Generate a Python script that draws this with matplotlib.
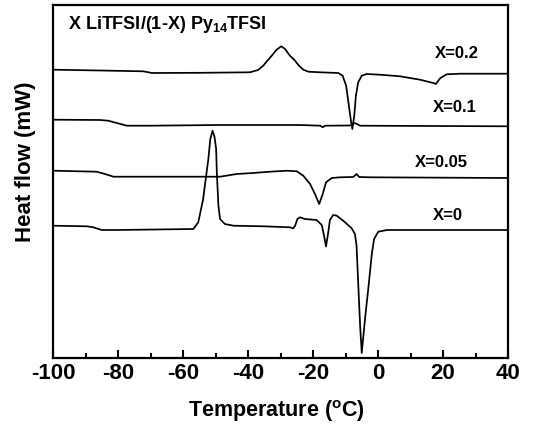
import matplotlib
matplotlib.use("Agg")
import matplotlib.pyplot as plt
from matplotlib import font_manager as fm
from matplotlib.ticker import MultipleLocator

names = {f.name for f in fm.fontManager.ttflist}
narrow = "Liberation Sans Narrow" if "Liberation Sans Narrow" in names else "Liberation Sans"

plt.rcParams['font.family'] = [narrow, 'DejaVu Sans']
plt.rcParams['mathtext.fontset'] = 'custom'
plt.rcParams['mathtext.default'] = 'bf'
plt.rcParams['mathtext.bf'] = narrow + ':bold'
plt.rcParams['mathtext.rm'] = narrow + ':bold'

# ---- data: temperature (degC) and heat flow (arbitrary, offset) ----
t_x02 = [-100, -85.5, -72.3, -71.1, -69.5, -54.8, -39.4, -36.9, -35.3, -34.0, -32.7, -31.2,
         -29.8, -28.6, -27.1, -25.8, -24.5, -23.0, -21.4, -17.8, -12.2, -10.9, -9.8, -9.1,
         -8.4, -7.9, -7.3, -6.8, -6.1, -5.0, -3.5, 0.6, 6.8, 12.9, 17.0, 17.8, 19.1, 21.1,
         25.2, 40]
h_x02 = [288.3, 287.5, 286.7, 286, 285, 285.2, 285.7, 288, 292.3, 297.5, 302.3, 308.3,
         311.7, 309, 302.3, 298.3, 293, 288.3, 286.3, 285.7, 285, 282.3, 272.3, 255.7,
         239, 229, 242.3, 262.3, 275.7, 282.3, 284, 283.3, 281.7, 278.3, 275, 274, 279.7,
         283.7, 284.3, 284.3]

t_x01 = [-100, -85.5, -83.0, -80.4, -77.3, -70.2, -48.6, -24.0, -17.8, -17.0, -16.3,
         -8.6, -7.1, -5.5, 40]
h_x01 = [238.3, 238, 237.3, 235, 232.3, 232.3, 233, 233, 232.3, 230.7, 232.3,
         232.5, 235, 232.3, 231.7]

t_x005 = [-100, -86.6, -84.0, -81.4, -70.2, -48.6, -43.5, -38.4, -33.2, -28.1, -25.0,
          -23.0, -20.9, -19.4, -18.1, -17.0, -16.0, -14.2, -11.7, -7.6, -6.6, -5.8,
          -2.5, 40]
h_x005 = [187.3, 186.3, 184, 181.3, 181.3, 181.3, 184, 185, 186.3, 187.3, 186.7,
          182.3, 174, 164, 154, 164, 175.7, 180, 180.7, 181, 184, 181, 180.7, 180]

t_x0 = [-100, -89.6, -87.6, -85.0, -80.4, -56.8, -55.3, -53.8, -52.2, -51.6, -50.9,
        -50.3, -49.8, -49.6, -49.1, -48.6, -47.1, -44.5, -35.3, -27.1, -26.1, -25.5,
        -24.8, -24.0, -22.5, -18.9, -17.3, -16.6, -16.0, -15.3, -14.8, -13.8, -12.7,
        -10.7, -8.1, -7.1, -6.6, -6.1, -5.5, -5.0, -4.0, -3.0, -1.9, -1.2, 0.1, 2.7, 40]
h_x0 = [132.3, 131.7, 130.7, 128, 128, 129, 135.7, 159, 199, 219, 227.3,
        221, 209, 185.7, 152.3, 139, 134, 132.3, 131.7, 130.7, 129.7, 132.3,
        139, 140.7, 139, 138, 133, 122.3, 111.5, 125.7, 138, 143, 142.3,
        137.3, 129.7, 124, 112.3, 75.7, 32.3, 5, 39, 69, 104, 119, 126.3, 128, 128]

series_labels = ["X=0.2", "X=0.1", "X=0.05", "X=0"]
title_text = r"X LiTFSI/(1-X) Py$_{14}$TFSI"
x_ticks = [-100, -80, -60, -40, -20, 0, 20, 40]

W, H = 536, 427
fig = plt.figure(figsize=(W / 100, H / 100), dpi=100)
ax = fig.add_axes([53 / W, 1 - 359 / H, 455 / W, 353 / H])

for t, h in [(t_x02, h_x02), (t_x01, h_x01), (t_x005, h_x005), (t_x0, h_x0)]:
    ax.plot(t, h, color='black', lw=1.25, solid_joinstyle='round')

ax.set_xlim(-100, 40)
ax.set_ylim(0, 353)
ax.set_xticks(x_ticks)
ax.set_xticklabels([str(v) for v in x_ticks])
ax.xaxis.set_minor_locator(MultipleLocator(10))
ax.set_yticks([])
ax.tick_params(axis='x', which='major', direction='in', length=6, width=1.5,
               labelsize=16, pad=3)
ax.tick_params(axis='x', which='minor', direction='in', length=3.5, width=1.5)
for lab in ax.get_xticklabels():
    lab.set_fontweight('bold')
for s in ax.spines.values():
    s.set_linewidth(1.6)

txt_font = dict(family=['Liberation Sans', 'DejaVu Sans'], fontweight='bold', fontsize=12)
ax.text(0.033, 0.935, title_text, transform=ax.transAxes, ha='left', va='baseline',
        fontsize=13, fontweight='bold')
label_pos = [(0.8396, 0.852), (0.835, 0.7006), (0.7956, 0.5448), (0.835, 0.394)]
for lab, (lx, ly) in zip(series_labels, label_pos):
    ax.text(lx, ly, lab, transform=ax.transAxes, ha='left', va='baseline', **txt_font)

fig.text(276.7 / W, 1 - 411 / H, r"Temperature ($^{\mathbf{o}}$C)", ha='center', va='center',
         fontsize=15.5, fontweight='bold')
fig.text(26 / W, 1 - 162 / H, "Heat flow (mW)", ha='center', va='center', rotation=90,
         fontsize=16, fontweight='bold')

fig.savefig("out.png", dpi=100)
